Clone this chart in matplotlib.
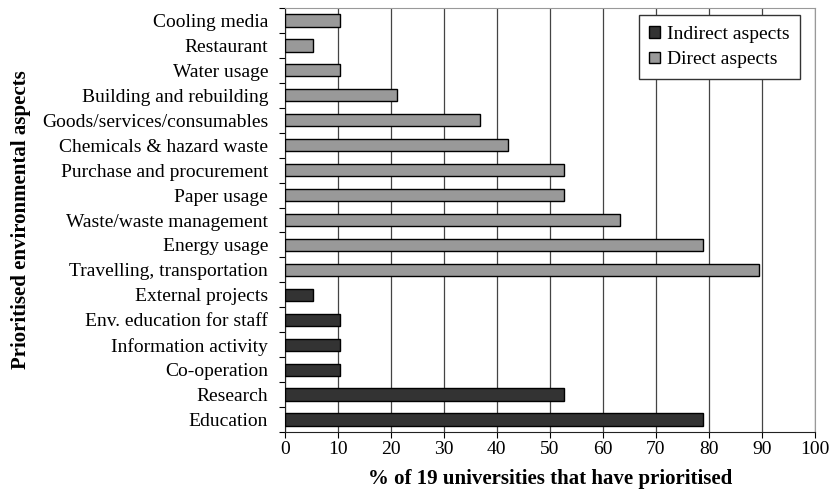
import numpy as np
import matplotlib.pyplot as plt
from matplotlib.patches import Patch

plt.rcParams['font.family'] = ['Liberation Serif', 'DejaVu Serif']

# bottom to top, as in the chart
categories = ['Education', 'Research', 'Co-operation', 'Information activity',
              'Env. education for staff', 'External projects',
              'Travelling, transportation', 'Energy usage', 'Waste/waste management',
              'Paper usage', 'Purchase and procurement', 'Chemicals & hazard waste',
              'Goods/services/consumables', 'Building and rebuilding', 'Water usage',
              'Restaurant', 'Cooling media']
values = [78.9, 52.6, 10.5, 10.5, 10.5, 5.3,
          89.5, 78.9, 63.2, 52.6, 52.6, 42.1, 36.8, 21.1, 10.5, 5.3, 10.5]
kind = ['indirect'] * 6 + ['direct'] * 11

colors = {'indirect': '#333333', 'direct': '#999999'}

fig = plt.figure(figsize=(8.3, 4.9), dpi=100)
ax = fig.add_axes([0.343, 0.118, 0.639, 0.866])

y = np.arange(len(categories))
ax.barh(y, values, height=0.5, color=[colors[k] for k in kind],
        edgecolor='black', linewidth=1.0, zorder=3)

ax.set_xlim(0, 100)
ax.set_ylim(-0.5, len(categories) - 0.5)
ax.set_xticks(np.arange(0, 101, 10))
ax.set_yticks(y)
ax.set_yticklabels(categories)
ax.set_yticks(np.arange(-0.5, len(categories), 1), minor=True)
ax.tick_params(axis='y', which='major', length=0, labelsize=14, pad=12)
ax.tick_params(axis='y', which='minor', length=4, width=0.8)
ax.tick_params(axis='x', labelsize=14, length=4, width=0.8, pad=2)
ax.grid(axis='x', color='#444444', linewidth=0.9, zorder=0)

for side in ['top', 'right']:
    ax.spines[side].set_color('#999999')
for side in ['left', 'bottom']:
    ax.spines[side].set_color('#222222')

ax.set_xlabel('% of 19 universities that have prioritised', fontsize=15,
              fontweight='bold', labelpad=8)
ax.set_ylabel('Prioritised environmental aspects', fontsize=15,
              fontweight='bold', labelpad=8)

handles = [Patch(facecolor=colors['indirect'], edgecolor='black', label='Indirect aspects'),
           Patch(facecolor=colors['direct'], edgecolor='black', label='Direct aspects')]
leg = ax.legend(handles=handles, loc='upper right', bbox_to_anchor=(0.972, 0.983),
                fontsize=14, frameon=True, framealpha=1, fancybox=False,
                edgecolor='#333333', handlelength=0.55, handleheight=0.55,
                handletextpad=0.35, borderaxespad=0, borderpad=0.55,
                labelspacing=0.45)
leg.get_frame().set_linewidth(1.0)
leg.set_zorder(5)

fig.savefig('out.png', dpi=100)
